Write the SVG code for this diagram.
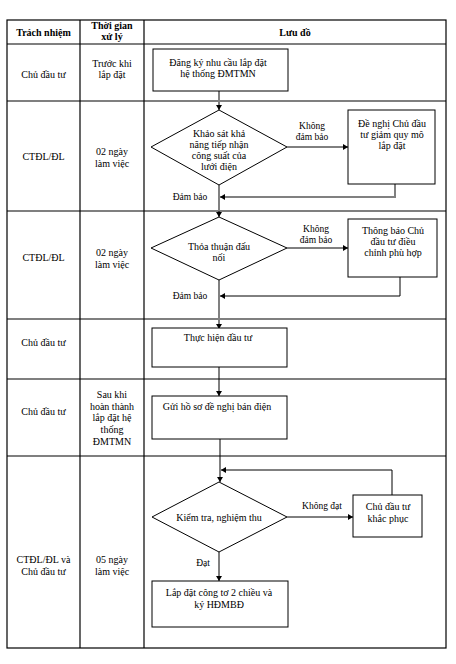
<svg xmlns="http://www.w3.org/2000/svg" width="456" height="664" viewBox="0 0 456 664" font-family="'Liberation Serif', 'Times New Roman', serif">
<style>
text{font-family:"Liberation Serif","Times New Roman",serif;font-size:10px;fill:#000;text-anchor:middle}
.b{font-weight:bold}
.s{font-size:9.5px}
.grid{stroke:#000;stroke-width:1.2;fill:none}
.box{fill:#fff;stroke:#000;stroke-width:1}
.k{stroke:#000;stroke-width:1;fill:none}
.g{stroke:#808080;stroke-width:2;fill:none}
</style>
<defs>
<marker id="ah" markerUnits="userSpaceOnUse" markerWidth="6" markerHeight="6" refX="5" refY="3" orient="auto">
<path d="M0,0 L5,3 L0,6 Z" fill="#000"/>
</marker>
</defs>
<rect width="456" height="664" fill="#fff"/>
<g id="table">
<rect class="grid" x="7" y="20" width="439" height="628"/>
<line class="grid" x1="80" y1="20" x2="80" y2="648"/>
<line class="grid" x1="144" y1="20" x2="144" y2="648"/>
<line class="grid" x1="7" y1="44" x2="446" y2="44"/>
<line class="grid" x1="7" y1="101" x2="446" y2="101"/>
<line class="grid" x1="7" y1="211" x2="446" y2="211"/>
<line class="grid" x1="7" y1="319" x2="446" y2="319"/>
<line class="grid" x1="7" y1="379" x2="446" y2="379"/>
<line class="grid" x1="7" y1="456" x2="446" y2="456"/>
<text class="b" x="43.5" y="36">Trách nhiệm</text>
<text class="b" x="112" y="29">Thời gian</text>
<text class="b" x="112" y="40">xử lý</text>
<text class="b" x="295" y="36">Lưu đồ</text>
<text x="43.5" y="78">Chủ đầu tư</text>
<text x="112" y="67">Trước khi</text>
<text x="112" y="78">lắp đặt</text>
<text x="43.5" y="160">CTĐL/ĐL</text>
<text x="112" y="155">02 ngày</text>
<text x="112" y="167">làm việc</text>
<text x="43.5" y="261">CTĐL/ĐL</text>
<text x="112" y="256">02 ngày</text>
<text x="112" y="268">làm việc</text>
<text x="43.5" y="346">Chủ đầu tư</text>
<text x="43.5" y="415">Chủ đầu tư</text>
<text x="112" y="398">Sau khi</text>
<text x="112" y="410">hoàn thành</text>
<text x="112" y="421">lắp đặt hệ</text>
<text x="112" y="433">thống</text>
<text x="112" y="445">ĐMTMN</text>
<text x="43.5" y="563">CTĐL/ĐL và</text>
<text x="43.5" y="575">Chủ đầu tư</text>
<text x="112" y="563">05 ngày</text>
<text x="112" y="575">làm việc</text>
</g>
<g id="connectors">
<line class="g" x1="219" y1="91" x2="219" y2="104"/>
<line class="k" x1="219" y1="104" x2="219" y2="110" marker-end="url(#ah)"/>
<line class="k" x1="287" y1="147" x2="348" y2="147" marker-end="url(#ah)"/>
<polyline class="g" points="395,184 395,197 226,197"/>
<line class="k" x1="226" y1="197" x2="220" y2="197" marker-end="url(#ah)"/>
<line class="g" x1="219" y1="185" x2="219" y2="211"/>
<line class="k" x1="219" y1="211" x2="219" y2="217" marker-end="url(#ah)"/>
<line class="k" x1="287" y1="248" x2="348" y2="248" marker-end="url(#ah)"/>
<polyline class="k" points="400,277 400,296 220,296" marker-end="url(#ah)"/>
<line class="g" x1="219" y1="280" x2="219" y2="322"/>
<line class="k" x1="219" y1="322" x2="219" y2="329" marker-end="url(#ah)"/>
<line class="k" x1="219" y1="367" x2="219" y2="396" marker-end="url(#ah)"/>
<line class="k" x1="220" y1="439" x2="220" y2="482" marker-end="url(#ah)"/>
<line class="k" x1="287" y1="517" x2="353" y2="517" marker-end="url(#ah)"/>
<polyline class="k" points="392,495 392,470 221,470" marker-end="url(#ah)"/>
<line class="k" x1="219" y1="552" x2="219" y2="581" marker-end="url(#ah)"/>
<text x="312" y="129" class="s">Không</text>
<text x="312" y="140" class="s">đảm bảo</text>
<text x="190" y="200" class="s">Đảm bảo</text>
<text x="316" y="232" class="s">Không</text>
<text x="316" y="243" class="s">đảm bảo</text>
<text x="190" y="299" class="s">Đảm bảo</text>
<text x="322" y="509" class="s">Không đạt</text>
<text x="203" y="566" class="s">Đạt</text>
</g>
<g id="n1">
<rect class="box" x="153" y="49" width="135" height="42"/>
<text x="218" y="66">Đăng ký nhu cầu lắp đặt</text>
<text x="218" y="77">hệ thống ĐMTMN</text>
</g>
<g id="n2">
<polygon class="box" points="219,110 287,147 219,185 151,147"/>
<text x="219" y="137">Khảo sát khả</text>
<text x="219" y="148">năng tiếp nhận</text>
<text x="219" y="159">công suất của</text>
<text x="219" y="170">lưới điện</text>
</g>
<g id="n3">
<rect class="box" x="348" y="110" width="87" height="74"/>
<text x="392" y="127">Đề nghị Chủ đầu</text>
<text x="392" y="138">tư giảm quy mô</text>
<text x="392" y="149">lắp đặt</text>
</g>
<g id="n4">
<polygon class="box" points="219,217 287,248 219,280 151,248"/>
<text x="219" y="250">Thỏa thuận đấu</text>
<text x="219" y="261">nối</text>
</g>
<g id="n5">
<rect class="box" x="348" y="219" width="89" height="58"/>
<text x="393" y="234">Thông báo Chủ</text>
<text x="393" y="245">đầu tư điều</text>
<text x="393" y="256">chỉnh phù hợp</text>
</g>
<g id="n6">
<rect class="box" x="152" y="328" width="135" height="39"/>
<text x="218" y="341">Thực hiện đầu tư</text>
</g>
<g id="n7">
<rect class="box" x="152" y="396" width="135" height="43"/>
<text x="217" y="410">Gửi hồ sơ đề nghị bán điện</text>
</g>
<g id="n8">
<polygon class="box" points="219,482 287,517 219,552 152,517"/>
<text x="219" y="521">Kiểm tra, nghiệm thu</text>
</g>
<g id="n9">
<rect class="box" x="353" y="495" width="69" height="42"/>
<text x="388" y="510">Chủ đầu tư</text>
<text x="388" y="522">khắc phục</text>
</g>
<g id="n10">
<rect class="box" x="152" y="581" width="136" height="46"/>
<text x="219" y="596">Lắp đặt công tơ 2 chiều và</text>
<text x="219" y="608">ký HĐMBĐ</text>
</g>
</svg>
